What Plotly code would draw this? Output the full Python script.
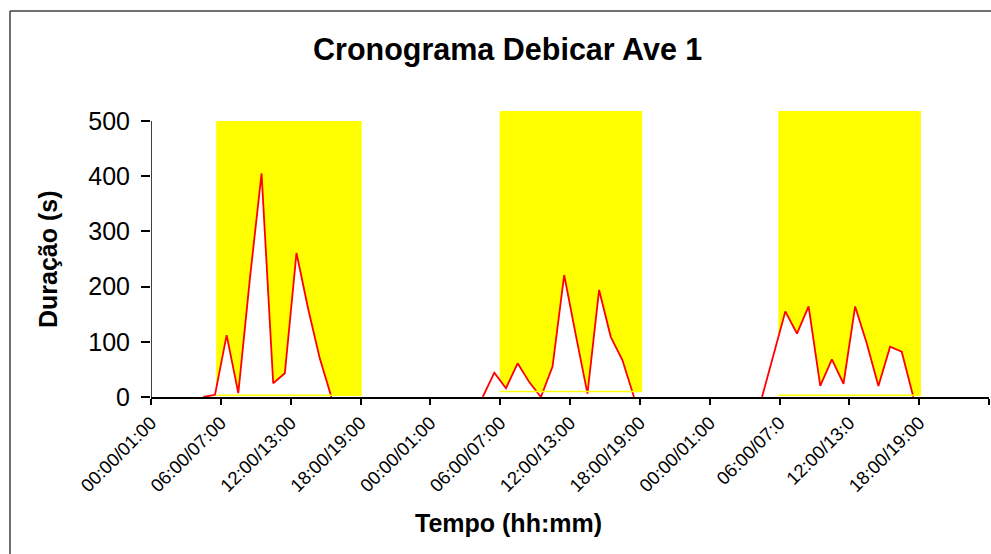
import plotly.graph_objects as go

# ---- data -----------------------------------------------------------------
# hourly slots (hour index within the day); points sit at the middle of each slot
day1_hours = [4, 5, 6, 7, 8, 9, 10, 11, 12, 13, 14, 15]
day1_dur = [0, 4, 112, 7, 215, 405, 25, 43, 261, 160, 70, 0]

day2_hours = [4, 5, 6, 7, 8, 9, 10, 11, 12, 13, 14, 15, 16, 17]
day2_dur = [0, 44, 16, 61, 27, 0, 55, 221, 112, 6, 194, 109, 67, 0]

day3_hours = [4, 5, 6, 7, 8, 9, 10, 11, 12, 13, 14, 15, 16, 17]
day3_dur = [0, 80, 155, 115, 164, 20, 68, 24, 164, 97, 20, 91, 82, 0]

# working-period bands (hours from the start of the series)
band_start = [5.6, 29.95, 53.9]
band_end = [18.1, 42.2, 66.15]
band_top = [500, 518, 518]
band_base = [3, 10, 3]

tick_hours = [0, 6, 12, 18, 24, 30, 36, 42, 48, 54, 60, 66, 72]
tick_text = ["00:00/01:00", "06:00/07:00", "12:00/13:00", "18:00/19:00",
             "00:00/01:00", "06:00/07:00", "12:00/13:00", "18:00/19:00",
             "00:00/01:00", "06:00/07:0", "12:00/13:0", "18:00/19:00", ""]
y_ticks = [0, 100, 200, 300, 400, 500]

FONT = "Liberation Sans, Arial, sans-serif"

# ---- figure geometry ------------------------------------------------------
W, H = 991, 554
ML, MR, MT, MB = 151, 2, 107, 157
PW, PH = W - ML - MR, H - MT - MB
Y_MAX = 525.4


def px_to_paper_x(px):
    return (px - ML) / PW


def px_to_paper_y(py):
    return (H - MB - py) / PH


fig = go.Figure()

# yellow bands
for s, e, top, base in zip(band_start, band_end, band_top, band_base):
    fig.add_trace(go.Scatter(
        x=[s, e, e, s, s], y=[base, base, top, top, base],
        mode="lines", fill="toself", fillcolor="#FFFF00",
        line=dict(color="#FFFF00", width=0), hoverinfo="skip", showlegend=False))

# duration series: white area with red outline, one block per day
for day, (hours, dur) in enumerate([(day1_hours, day1_dur),
                                    (day2_hours, day2_dur),
                                    (day3_hours, day3_dur)]):
    xs = [day * 24 + h + 0.5 for h in hours]
    fig.add_trace(go.Scatter(
        x=xs, y=dur, mode="lines", fill="tozeroy", fillcolor="#FFFFFF",
        line=dict(color="#FF0000", width=1.8), showlegend=False))

# thin yellow base line of each band, visible inside the white area
for s, e, base in zip(band_start, band_end, band_base):
    fig.add_trace(go.Scatter(
        x=[s, e], y=[base, base], mode="lines",
        line=dict(color="#FFFF00", width=1.5), hoverinfo="skip", showlegend=False))

frame = dict(color="#404040", width=1.5)

fig.update_layout(
    width=W, height=H,
    margin=dict(l=ML, r=MR, t=MT, b=MB),
    paper_bgcolor="white", plot_bgcolor="white",
    font=dict(family=FONT, color="black"),
    showlegend=False,
    xaxis=dict(
        range=[0, 72], tickmode="array", tickvals=tick_hours, ticktext=tick_text,
        tickangle=-45, tickfont=dict(size=18.5, family=FONT, color="black"),
        ticks="outside", ticklen=6, tickwidth=1.5, tickcolor="black",
        showline=True, linecolor="black", linewidth=1.5,
        showgrid=False, zeroline=False),
    yaxis=dict(
        range=[0, Y_MAX], tickmode="array", tickvals=y_ticks,
        tickfont=dict(size=25, family=FONT, color="black"),
        ticks="outside", ticklen=9, tickwidth=1.5, tickcolor="black",
        ticklabelstandoff=6,
        showline=False, showgrid=False, zeroline=False),
    shapes=[
        # y axis line only up to the last tick
        dict(type="line", xref="x", yref="y", x0=0, x1=0, y0=0, y1=y_ticks[-1],
             line=dict(color="black", width=1.5), layer="above"),
        # chart frame: left and top edges
        dict(type="line", xref="paper", yref="paper",
             x0=px_to_paper_x(10), x1=px_to_paper_x(10),
             y0=px_to_paper_y(560), y1=px_to_paper_y(11), line=frame),
        dict(type="line", xref="paper", yref="paper",
             x0=px_to_paper_x(10), x1=px_to_paper_x(995),
             y0=px_to_paper_y(11), y1=px_to_paper_y(11), line=frame),
    ],
    annotations=[
        dict(text="<b>Cronograma Debicar Ave 1</b>", xref="paper", yref="paper",
             x=px_to_paper_x(507), y=px_to_paper_y(49), showarrow=False,
             xanchor="center", yanchor="middle",
             font=dict(size=30.5, family=FONT, color="black")),
        dict(text="<b>Tempo (hh:mm)</b>", xref="paper", yref="paper",
             x=px_to_paper_x(508), y=px_to_paper_y(523), showarrow=False,
             xanchor="center", yanchor="middle",
             font=dict(size=25, family=FONT, color="black")),
        dict(text="<b>Duração (s)</b>", xref="paper", yref="paper",
             x=px_to_paper_x(48), y=px_to_paper_y(259), showarrow=False,
             textangle=-90, xanchor="center", yanchor="middle",
             font=dict(size=25, family=FONT, color="black")),
    ],
)

fig.write_html("out.html")
